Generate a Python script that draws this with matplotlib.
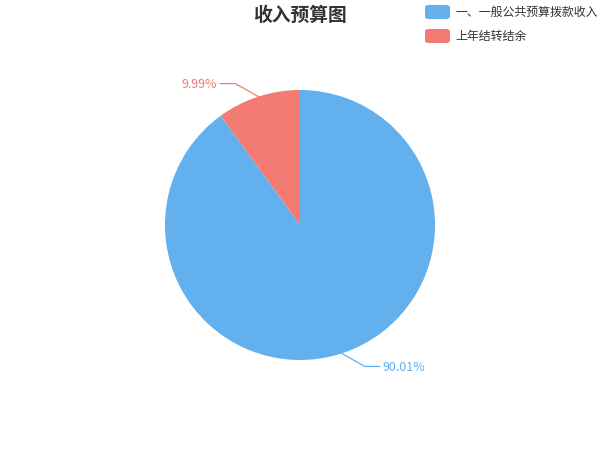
import numpy as np
import matplotlib
matplotlib.use("Agg")
import matplotlib.pyplot as plt
from matplotlib.patches import FancyBboxPatch

plt.rcParams['font.family'] = ['Noto Sans CJK SC', 'DejaVu Sans']

labels = ['一、一般公共预算拨款收入', '上年结转结余']
values = [90.01, 9.99]
colors = ['#62b0ee', '#f47b74']

fig = plt.figure(figsize=(6, 4.5), dpi=100)
ax = fig.add_axes([0, 0, 1, 1])

cx, cy, r = 300, 225, 135
wedges, _ = ax.pie(values, colors=colors, startangle=90, counterclock=False,
                   center=(cx, cy), radius=r, frame=True,
                   wedgeprops=dict(linewidth=0))
ax.set_xlim(0, 600)
ax.set_ylim(0, 450)
ax.set_aspect('equal')
ax.axis('off')

# leader lines + percentage labels
for w, v, c in zip(wedges, values, colors):
    mid = np.deg2rad((w.theta1 + w.theta2) / 2)
    x0, y0 = cx + r * np.cos(mid), cy + r * np.sin(mid)
    sx = 1 if np.cos(mid) >= 0 else -1
    x1, y1 = x0 + 23 * sx, y0 + 13 * np.sign(np.sin(mid))
    x2 = x1 + 15 * sx
    ax.plot([x0, x1, x2], [y0, y1, y1], color=c, lw=0.9)
    ax.text(x2 + 3 * sx, y1 - 1, f'{v:.2f}%', color=c, fontsize=9,
            ha='left' if sx > 0 else 'right', va='center')

fig.text(0.5, 1 - 15 / 450, '收入预算图', ha='center', va='center',
         fontsize=13.5, fontweight='bold', color='#333333')

# legend
for i, (lab, c) in enumerate(zip(labels, colors)):
    ytop = 5 + i * 24
    box = FancyBboxPatch((425 / 600, 1 - (ytop + 14) / 450), 25 / 600, 14 / 450,
                         boxstyle='round,pad=0,rounding_size=0.006',
                         transform=fig.transFigure, facecolor=c, edgecolor='none')
    fig.patches.append(box)
    fig.text(455 / 600, 1 - (ytop + 7) / 450, lab, ha='left', va='center',
             fontsize=8.6, color='#333333')

fig.savefig('out.png', dpi=100)
